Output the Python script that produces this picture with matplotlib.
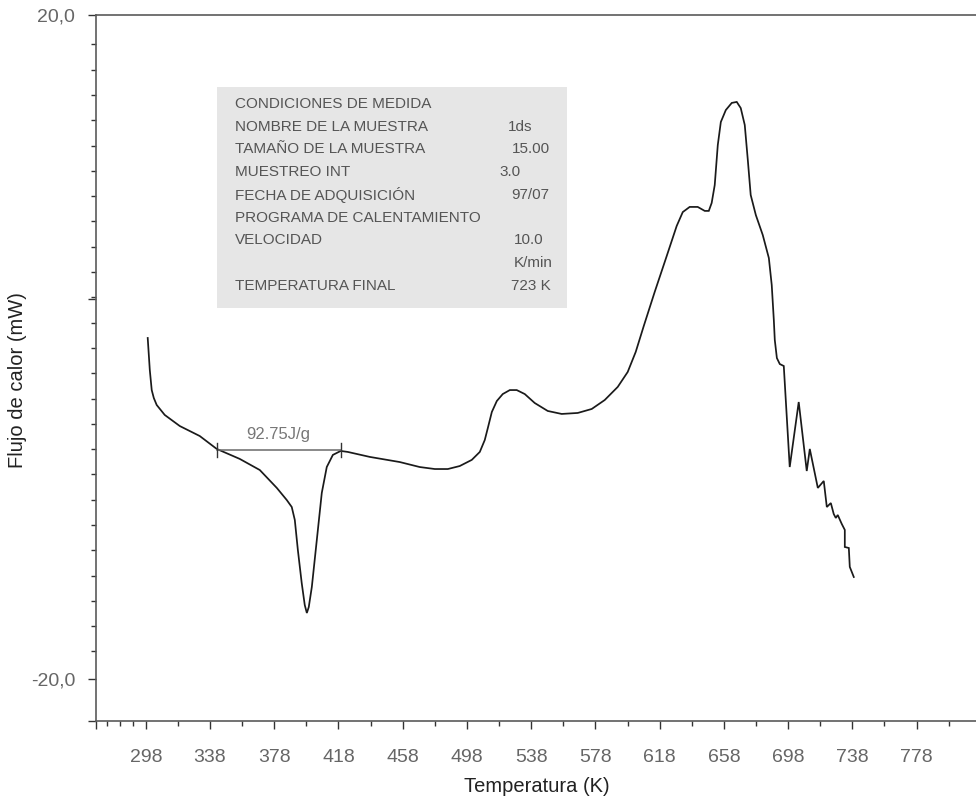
import numpy as np
import matplotlib
matplotlib.use("Agg")
import matplotlib.pyplot as plt
from matplotlib.patches import Rectangle

plt.rcParams['font.family'] = ['Liberation Sans', 'DejaVu Sans']

# ---------------- data ----------------
temperature_K = [299.2, 300.5, 301.7, 303.0, 304.8, 309.8, 319.2, 331.6, 342.2, 356.5,
                 369.0, 379.6, 385.8, 388.9, 390.8, 392.7, 395.1, 397.0, 398.3, 399.5,
                 401.4, 404.5, 407.6, 410.7, 414.5, 419.4, 423.8, 437.5, 456.2, 468.6,
                 478.0, 486.1, 493.5, 501.0, 506.0, 509.1, 511.0, 513.5, 516.6, 520.3,
                 524.7, 529.0, 534.0, 540.2, 548.3, 557.0, 567.0, 575.7, 583.8, 591.9,
                 598.1, 603.1, 608.1, 614.9, 622.4, 628.6, 632.4, 636.7, 641.7, 646.1,
                 648.6, 650.4, 652.3, 654.2, 656.1, 659.2, 662.9, 666.0, 668.5, 671.0,
                 672.9, 674.7, 677.9, 682.2, 686.0, 687.8, 689.1, 689.7, 691.0, 692.8,
                 695.3, 699.0, 704.6, 709.6, 711.5, 716.5, 720.2, 722.1, 724.6, 726.4,
                 727.7, 728.9, 731.4, 733.3, 733.3, 735.8, 736.4, 738.9]
heat_flow_mW = [0.53, -1.40, -2.61, -3.09, -3.51, -4.11, -4.78, -5.38, -6.16, -6.76,
                -7.43, -8.51, -9.24, -9.66, -10.44, -12.25, -14.24, -15.57, -16.05, -15.69,
                -14.48, -11.65, -8.81, -7.25, -6.52, -6.28, -6.34, -6.64, -6.95, -7.25,
                -7.37, -7.37, -7.19, -6.82, -6.34, -5.62, -4.90, -3.93, -3.27, -2.85,
                -2.61, -2.61, -2.85, -3.39, -3.87, -4.05, -3.99, -3.75, -3.21, -2.42,
                -1.52, -0.31, 1.25, 3.30, 5.47, 7.28, 8.12, 8.43, 8.43, 8.19,
                8.19, 8.67, 9.75, 12.16, 13.55, 14.27, 14.70, 14.76, 14.39, 13.37,
                11.26, 9.15, 7.94, 6.74, 5.35, 3.72, 1.61, 0.41, -0.68, -1.04,
                -1.16, -7.25, -3.33, -7.49, -6.16, -8.51, -8.09, -9.66, -9.42, -10.08,
                -10.32, -10.14, -10.68, -11.04, -12.07, -12.13, -13.27, -13.88]

baseline_K = [342.2, 419.4]
baseline_mW = [-6.22, -6.22]
enthalpy_label = "92.75J/g"

x_tick_values = [298, 338, 378, 418, 458, 498, 538, 578, 618, 658, 698, 738, 778]
x_tick_labels = [str(v) for v in x_tick_values]
y_tick_values = [20.0, -20.0]
y_tick_labels = ["20,0", "-20,0"]

info_labels = ["CONDICIONES DE MEDIDA", "NOMBRE DE LA MUESTRA", "TAMAÑO DE LA MUESTRA",
               "MUESTREO INT", "FECHA DE ADQUISICIÓN", "PROGRAMA DE CALENTAMIENTO",
               "VELOCIDAD", "", "TEMPERATURA FINAL"]
info_values = ["", "1ds", "15.00", "3.0", "97/07", "", "10.0", "K/min", "723 K"]

# ---------------- figure ----------------
W, H = 976, 808
fig = plt.figure(figsize=(W / 100, H / 100), dpi=100)
ax_left, ax_right, ax_top, ax_bottom = 96, 976, 15, 721
ax = fig.add_axes([ax_left / W, 1 - ax_bottom / H, (ax_right - ax_left) / W,
                   (ax_bottom - ax_top) / H])

axis_col = '#5a5a5a'
tick_col = '#666666'

ax.plot(temperature_K, heat_flow_mW, color='#1a1a1a', lw=1.25, solid_joinstyle='miter')

# baseline integration marker
ax.plot(baseline_K, baseline_mW, color='#6a6a6a', lw=1.1)
for bx in baseline_K:
    ax.plot([bx, bx], [baseline_mW[0] - 0.4, baseline_mW[0] + 0.4], color='#333333', lw=1.0)
ax.text(np.mean(baseline_K), baseline_mW[0] + 0.5, enthalpy_label, ha='center', va='bottom',
        fontsize=12, color='#777777')

ax.set_xlim(267.0, 815.0)
ax.set_ylim(-22.56, 20.0)

# ticks
ax.set_xticks([267.0] + x_tick_values)
ax.set_xticklabels([""] + x_tick_labels)
x_minor = [274, 282, 290] + list(np.arange(318, 800, 40))
ax.set_xticks(x_minor, minor=True)

ax.set_yticks([-22.56] + y_tick_values + [2.88])
ax.set_yticklabels([""] + y_tick_labels + [""])
ax.set_yticks(list(np.arange(18.23, -19.2, -1.525)), minor=True)

ax.tick_params(axis='both', which='major', length=6, width=1.0, color='#333333',
               labelcolor=tick_col, labelsize=14)
ax.tick_params(axis='x', which='major', pad=14)
ax.tick_params(axis='y', which='major', pad=9)
ax.tick_params(axis='both', which='minor', length=3.5, width=1.0, color='#333333')

for s in ['left', 'bottom', 'top']:
    ax.spines[s].set_color(axis_col)
    ax.spines[s].set_linewidth(1.2)
ax.spines['right'].set_visible(False)

ax.set_xlabel("Temperatura (K)", fontsize=14.5, color='#222222')
ax.xaxis.set_label_coords((537 - ax_left) / (ax_right - ax_left), -(787 - ax_bottom) / (ax_bottom - ax_top))
ax.xaxis.label.set_va('center')
ax.set_ylabel("Flujo de calor (mW)", fontsize=14.5, color='#222222')
ax.yaxis.set_label_coords(-(ax_left - 18) / (ax_right - ax_left), (ax_bottom - 380) / (ax_bottom - ax_top))
ax.yaxis.label.set_va('center')

# info box (in figure pixel layout)
bx0, by0, bx1, by1 = 217, 87, 567, 308
fig.patches.append(Rectangle((bx0 / W, 1 - by1 / H), (bx1 - bx0) / W, (by1 - by0) / H,
                             transform=fig.transFigure, facecolor='#e6e6e6',
                             edgecolor='none', zorder=0.5))
row_y0, row_dy = 104, 22.7
val_x = [0, 508, 512, 499, 511, 0, 514, 514, 511]
for i, (lab, val) in enumerate(zip(info_labels, info_values)):
    yy = 1 - (row_y0 + i * row_dy) / H
    if lab:
        fig.text(235 / W, yy, lab, ha='left', va='center', fontsize=11, color='#555555')
    if val:
        fig.text(val_x[i] / W, yy, val, ha='left', va='center', fontsize=11, color='#555555')

fig.savefig("out.png", dpi=100)
